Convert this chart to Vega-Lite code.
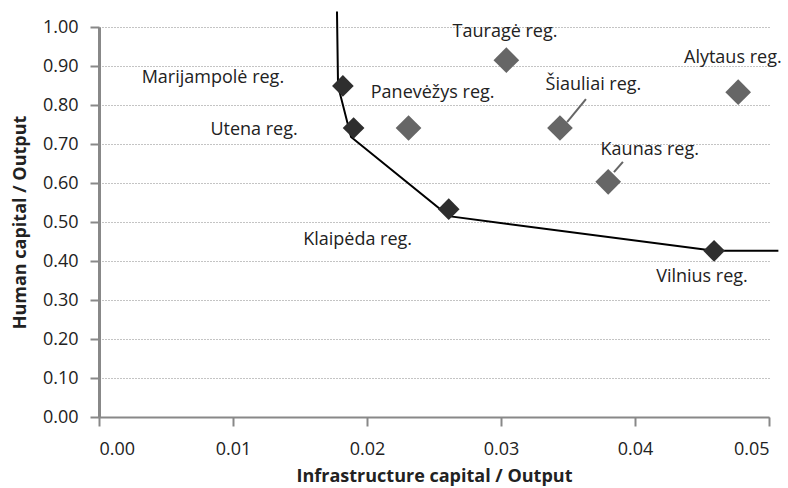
{
  "$schema": "https://vega.github.io/schema/vega-lite/v6.json",
  "width": 670,
  "height": 390,
  "autosize": "none",
  "padding": {"left": 99, "top": 27, "right": 19, "bottom": 71},
  "background": "white",
  "config": {
    "view": {"stroke": null},
    "font": "Open Sans",
    "axis": {
      "labelFont": "Open Sans",
      "labelFontSize": 18,
      "labelColor": "#222",
      "titleFont": "Open Sans",
      "titleFontSize": 18,
      "titleFontWeight": "bold",
      "titleColor": "#222",
      "labelOverlap": false
    },
    "axisX": {
      "grid": false,
      "domainColor": "#888",
      "domainWidth": 2,
      "tickColor": "#888",
      "tickWidth": 2,
      "tickSize": 9,
      "labelPadding": 14,
      "titlePadding": 9
    },
    "axisY": {
      "grid": true,
      "gridColor": "#888",
      "gridDash": [1, 2],
      "gridWidth": 1,
      "domainColor": "#888",
      "domainWidth": 3,
      "tickColor": "#888",
      "tickWidth": 2,
      "tickSize": 9,
      "labelPadding": 12,
      "titlePadding": 13
    }
  },
  "datasets": {
    "regions": [
      {"region": "Marijampolė reg.", "x": 0.0182, "y": 0.849, "type": "efficient", "lx": 0.0085, "ly": 0.869},
      {"region": "Utena reg.", "x": 0.0190, "y": 0.741, "type": "efficient", "lx": 0.01157, "ly": 0.736},
      {"region": "Panevėžys reg.", "x": 0.0231, "y": 0.741, "type": "inefficient", "lx": 0.0249, "ly": 0.831},
      {"region": "Tauragė reg.", "x": 0.0304, "y": 0.915, "type": "inefficient", "lx": 0.0303, "ly": 0.987},
      {"region": "Šiauliai reg.", "x": 0.0344, "y": 0.741, "type": "inefficient", "lx": 0.0369, "ly": 0.851},
      {"region": "Alytaus reg.", "x": 0.0477, "y": 0.833, "type": "inefficient", "lx": 0.0473, "ly": 0.921},
      {"region": "Kaunas reg.", "x": 0.0380, "y": 0.603, "type": "inefficient", "lx": 0.0411, "ly": 0.685},
      {"region": "Klaipėda reg.", "x": 0.0261, "y": 0.533, "type": "efficient", "lx": 0.0193, "ly": 0.454},
      {"region": "Vilnius reg.", "x": 0.0459, "y": 0.426, "type": "efficient", "lx": 0.0450, "ly": 0.359}
    ],
    "frontier": [
      {"order": 1, "x": 0.01776, "y": 1.04},
      {"order": 2, "x": 0.01784, "y": 0.849},
      {"order": 3, "x": 0.01881, "y": 0.718},
      {"order": 4, "x": 0.0261, "y": 0.515},
      {"order": 5, "x": 0.0459, "y": 0.426},
      {"order": 6, "x": 0.0507, "y": 0.426}
    ],
    "leaders": [
      {"x": 0.03634, "y": 0.815, "x2": 0.03493, "y2": 0.756},
      {"x": 0.0391, "y": 0.654, "x2": 0.03843, "y2": 0.628}
    ]
  },
  "layer": [
    {
      "data": {"name": "frontier"},
      "mark": {"type": "line", "color": "#000", "strokeWidth": 2, "clip": false},
      "encoding": {
        "x": {
          "field": "x", "type": "quantitative",
          "scale": {"domain": [0, 0.05], "nice": false, "zero": true},
          "axis": {"title": "Infrastructure capital / Output", "values": [0, 0.01, 0.02, 0.03, 0.04, 0.05], "format": ".2f"}
        },
        "y": {
          "field": "y", "type": "quantitative",
          "scale": {"domain": [0, 1], "nice": false},
          "axis": {"title": "Human capital / Output", "values": [0, 0.1, 0.2, 0.3, 0.4, 0.5, 0.6, 0.7, 0.8, 0.9, 1.0], "format": ".2f"}
        },
        "order": {"field": "order", "type": "quantitative"}
      }
    },
    {
      "data": {"name": "leaders"},
      "mark": {"type": "rule", "color": "#666", "strokeWidth": 2},
      "encoding": {
        "x": {"field": "x", "type": "quantitative",
          "axis": {"title": "Infrastructure capital / Output", "values": [0, 0.01, 0.02, 0.03, 0.04, 0.05], "format": ".2f"}},
        "y": {"field": "y", "type": "quantitative",
          "axis": {"title": "Human capital / Output", "values": [0, 0.1, 0.2, 0.3, 0.4, 0.5, 0.6, 0.7, 0.8, 0.9, 1.0], "format": ".2f"}},
        "x2": {"field": "x2"},
        "y2": {"field": "y2"}
      }
    },
    {
      "data": {"name": "regions"},
      "mark": {"type": "point", "shape": "diamond", "filled": true, "opacity": 1},
      "encoding": {
        "x": {"field": "x", "type": "quantitative",
          "axis": {"title": "Infrastructure capital / Output", "values": [0, 0.01, 0.02, 0.03, 0.04, 0.05], "format": ".2f"}},
        "y": {"field": "y", "type": "quantitative",
          "axis": {"title": "Human capital / Output", "values": [0, 0.1, 0.2, 0.3, 0.4, 0.5, 0.6, 0.7, 0.8, 0.9, 1.0], "format": ".2f"}},
        "color": {
          "field": "type", "type": "nominal",
          "scale": {"domain": ["efficient", "inefficient"], "range": ["#2e2e2e", "#666666"]},
          "legend": null
        },
        "size": {
          "field": "type", "type": "nominal",
          "scale": {"domain": ["efficient", "inefficient"], "range": [470, 660]},
          "legend": null
        }
      }
    },
    {
      "data": {"name": "regions"},
      "mark": {"type": "text", "fontSize": 18, "color": "#222", "align": "center", "baseline": "middle", "font": "Open Sans"},
      "encoding": {
        "x": {"field": "lx", "type": "quantitative",
          "axis": {"title": "Infrastructure capital / Output", "values": [0, 0.01, 0.02, 0.03, 0.04, 0.05], "format": ".2f"}},
        "y": {"field": "ly", "type": "quantitative",
          "axis": {"title": "Human capital / Output", "values": [0, 0.1, 0.2, 0.3, 0.4, 0.5, 0.6, 0.7, 0.8, 0.9, 1.0], "format": ".2f"}},
        "text": {"field": "region"}
      }
    }
  ]
}
